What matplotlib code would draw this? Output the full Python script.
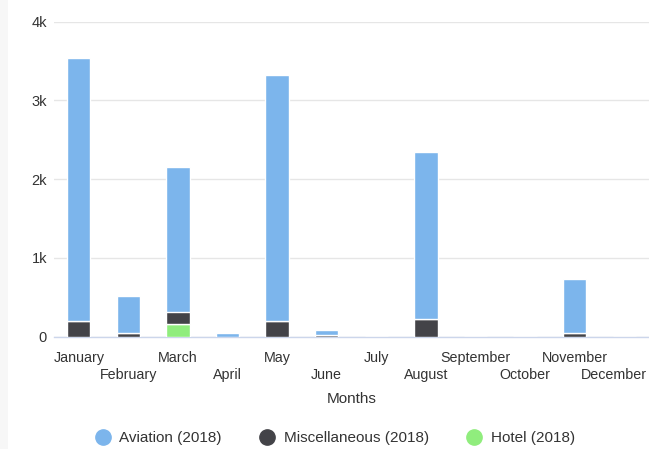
import matplotlib
matplotlib.use("Agg")
import matplotlib.pyplot as plt
from matplotlib.lines import Line2D
from matplotlib.patches import Rectangle
from matplotlib.transforms import ScaledTranslation
import numpy as np

months = ["January", "February", "March", "April", "May", "June", "July",
          "August", "September", "October", "November", "December"]
aviation = [3340, 470, 1834, 45, 3120, 58, 0, 2125, 0, 0, 690, 0]
misc = [205, 45, 160, 0, 205, 27, 0, 225, 0, 0, 45, 0]
hotel = [0, 0, 160, 0, 0, 0, 0, 0, 0, 0, 0, 0]
series_names = ["Aviation (2018)", "Miscellaneous (2018)", "Hotel (2018)"]
colors = ["#7cb5ec", "#434348", "#90ed7d"]
yticks = [0, 1000, 2000, 3000, 4000]
ytick_labels = ["0", "1k", "2k", "3k", "4k"]

plt.rcParams['font.family'] = ['Liberation Sans', 'DejaVu Sans']

fig = plt.figure(figsize=(6.49, 4.49), dpi=100)
fig.patches.append(Rectangle((0, 0), 8 / 649, 1, transform=fig.transFigure,
                             facecolor="#f7f7f7", edgecolor="none", zorder=0))
ax = fig.add_axes([54 / 649, 1 - 336.7 / 449, 595 / 649, (336.7 - 21.7) / 449])

x = np.arange(len(months))
w = 0.47
hotel_a = np.array(hotel)
misc_a = np.array(misc)
av_a = np.array(aviation)
ax.bar(x, hotel_a, w, color=colors[2], edgecolor="white", linewidth=1, zorder=3)
ax.bar(x, misc_a, w, bottom=hotel_a, color=colors[1], edgecolor="white", linewidth=1, zorder=3)
ax.bar(x, av_a, w, bottom=hotel_a + misc_a, color=colors[0], edgecolor="white", linewidth=1, zorder=3)

ax.set_xlim(-0.5, len(months) - 0.5)
ax.set_ylim(0, 4000)
ax.set_yticks(yticks)
ax.set_yticklabels(ytick_labels)
ax.grid(axis="y", color="#e6e6e6", linewidth=1, zorder=0)
ax.set_axisbelow(True)
for s in ["top", "right", "left"]:
    ax.spines[s].set_visible(False)
ax.spines["bottom"].set_color("#ccd6eb")
ax.spines["bottom"].set_linewidth(1)
ax.spines["bottom"].set_zorder(2)

ax.tick_params(axis="y", length=0, labelsize=10.5, labelcolor="#333333", pad=5)
ax.set_xticks(x)
ax.set_xticklabels(months)
ax.tick_params(axis="x", length=0, labelsize=10.3, labelcolor="#333333", pad=10)
for i, t in enumerate(ax.xaxis.get_major_ticks()):
    if i % 2 == 1:
        t.set_pad(22.5)
last = ax.get_xticklabels()[-1]
last.set_transform(last.get_transform() + ScaledTranslation(-10 / 100, 0, fig.dpi_scale_trans))

ax.set_xlabel("Months", fontsize=11, color="#333333", labelpad=7)

handles = [Line2D([], [], marker="o", linestyle="none", markersize=11,
                  markerfacecolor=c, markeredgecolor=c) for c in colors]
fig.legend(handles, series_names, loc="center", bbox_to_anchor=(0.515, 1 - 438 / 449),
           ncol=3, frameon=False, fontsize=11, labelcolor="#333333",
           handletextpad=0.5, columnspacing=2.35, handlelength=1.2)

fig.savefig("out.png", dpi=100)
